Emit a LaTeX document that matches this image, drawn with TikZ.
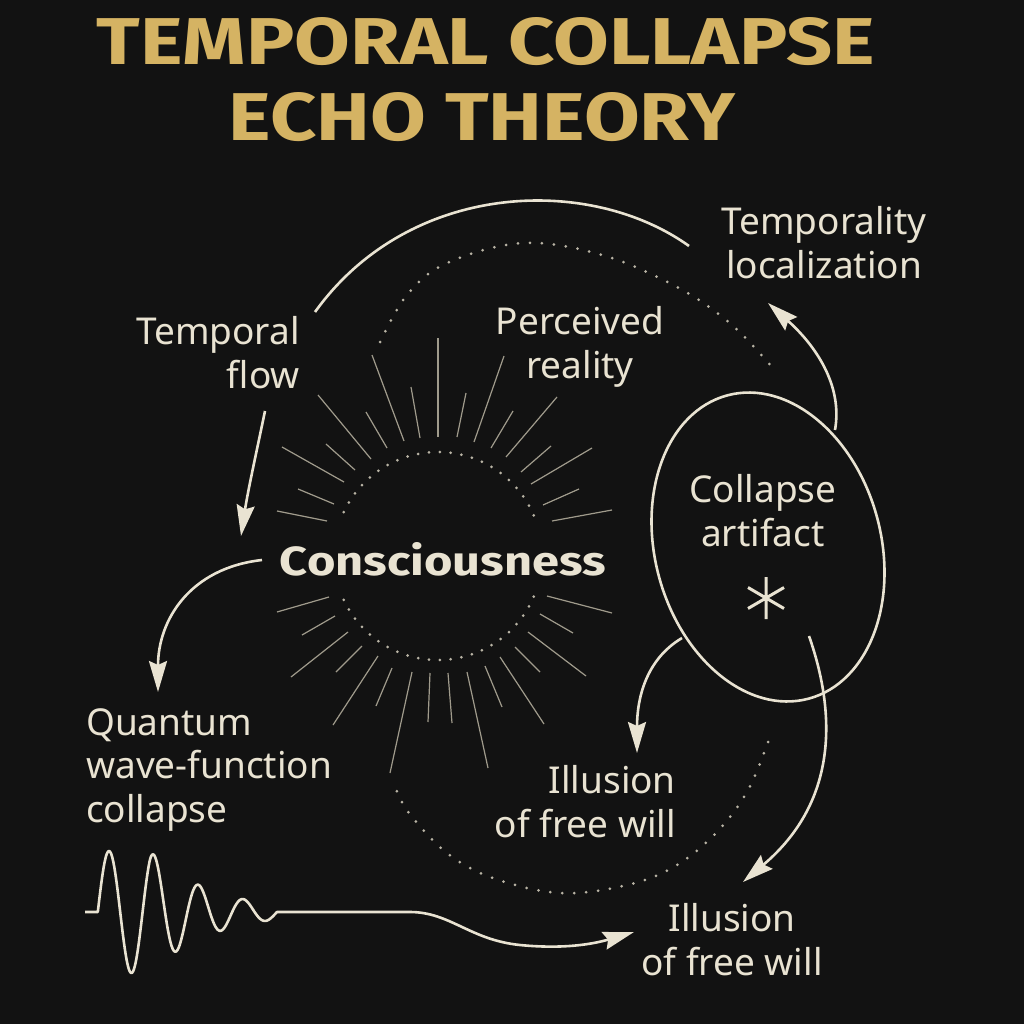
\documentclass[tikz,border=0pt]{standalone}
\usepackage{fontspec}
\setmainfont{Noto Sans}
\newfontfamily\titlefont{Fira Sans}
\usetikzlibrary{arrows.meta,shapes.geometric}
\definecolor{bg}{RGB}{18,18,18}
\definecolor{cream}{RGB}{233,227,210}
\definecolor{gold}{RGB}{213,179,99}
\definecolor{raycol}{RGB}{160,155,140}
\definecolor{dotcol}{RGB}{185,180,165}
\tikzset{
  lbl/.style={text=cream, font=\fontsize{37}{43.5}\selectfont, inner sep=0pt},
  conn/.style={draw=cream, line width=2.6pt, -{Stealth[length=31pt,width=18pt,inset=4pt]}},
  plainline/.style={draw=cream, line width=2.6pt},
  ray/.style={draw=raycol, line width=1.2pt},
  dotline/.style={draw=dotcol, line width=3pt, line cap=round, dash pattern=on 0pt off 12pt},
}
\begin{document}
\begin{tikzpicture}[x=1pt,y=-1pt]
\fill[bg] (0,0) rectangle (1024,1024);
\useasboundingbox (0,0) rectangle (1024,1024);

% title
\node[text=gold, anchor=base, inner sep=0pt] (title1) at (486,65)
  {\resizebox{778pt}{47pt}{\titlefont\bfseries TEMPORAL COLLAPSE}};
\node[text=gold, anchor=base, inner sep=0pt] (title2) at (482,141)
  {\resizebox{506pt}{48pt}{\titlefont\bfseries ECHO THEORY}};

% big dotted arcs
\draw[dotline] plot[smooth, tension=0.6] coordinates {(380,342) (407,295) (447,263) (523,243) (602,255) (677,287) (732,325) (777,373)};
\draw[dotline] plot[smooth, tension=0.6] coordinates {(768,742) (747,792) (714,835) (672,868) (623,886) (559,893) (493,878) (447,853) (409,813) (396,789)};

% rays
\foreach \xa/\ya/\xb/\yb in {438/338/438/437, 411/387/420/438, 372/355/404/441, 366/412/387/448,
  318/395/371/459, 326/444/355/470, 282/447/344/482, 298/489/334/504, 277/511/327/521,
  466/393/457/437, 504/356/474/442, 513/411/491/448, 557/397/506/457, 551/446/521/472,
  592/448/531/484, 579/489/543/505, 612/510/552/521,
  277/612/329/597, 302/635/335/616, 291/677/348/632, 336/672/362/646, 333/725/378/656,
  376/706/392/668, 390/773/412/672, 428/722/430/673, 452/723/448/673, 488/768/467/672,
  502/707/485/666, 544/724/500/657, 540/672/515/647, 586/676/528/632, 573/633/540/614,
  612/613/547/596}
  \draw[ray] (\xa,\ya) -- (\xb,\yb);

% inner dotted circle
\foreach \a in {23,29,...,155}
  \fill[dotcol] ({438+104*cos(\a)},{556-104*sin(\a)}) circle (1.5pt);
\foreach \a in {205,211,...,337}
  \fill[dotcol] ({438+104*cos(\a)},{556-104*sin(\a)}) circle (1.5pt);

% collapse artifact ellipse
\node[ellipse, draw=cream, line width=2.6pt, fill=bg, minimum width=226pt, minimum height=314pt,
  rotate=15, inner sep=0pt] (artifact) at (768,547) {};
\node[lbl, align=center, anchor=base] (artlbl) at (763,546) {Collapse\\artifact};
\draw[cream, line width=3pt] (766,577) -- (766,619) (748,587.5) -- (784,608.5) (748,608.5) -- (784,587.5);

% labels (base anchor = baseline of last line)
\node[lbl, align=right, anchor=base east] (tflow) at (300,388) {Temporal\\flow};
\node[lbl, align=center, anchor=base] (perc) at (580,378) {Perceived\\reality};
\node[lbl, align=center, anchor=base] (tloc) at (824,278) {Temporality\\localization};
\node[text=cream, inner sep=0pt, anchor=base] (consc) at (443,575)
  {\resizebox{326pt}{33pt}{\titlefont\fontsize{44}{50}\selectfont\bfseries Consciousness}};
\node[lbl, align=left, anchor=base west] (quant) at (86,822) {Quantum\\wave-function\\collapse};
\node[lbl, align=right, anchor=base east] (ill1) at (676,837) {Illusion\\of free will};
\node[lbl, align=center, anchor=base] (ill2) at (732,975) {Illusion\\of free will};

% connector end points
\coordinate (tfA) at (315,312);
\coordinate (tlA) at (689,246);
\coordinate (artTop) at (835,430);
\coordinate (tlB) at (768,303);
\coordinate (tfB) at (265,411);
\coordinate (cA) at (241,536);
\coordinate (cB) at (262,560);
\coordinate (qA) at (158,692);
\coordinate (artL) at (682,638);
\coordinate (ilA) at (637,753);
\coordinate (artS) at (809,636);
\coordinate (ibA) at (743,882);
\coordinate (wave0) at (85,912);
\coordinate (wEnd) at (634,932);

% connectors
\draw[plainline] (tfA) .. controls (410,180) and (590,175) .. (tlA);
\draw[conn] (artTop) .. controls (843,385) and (815,345) .. (tlB);
\draw[conn] (tfB) .. controls (258,445) and (248,490) .. (cA);
\draw[conn] (cB) .. controls (190,568) and (158,620) .. (qA);
\draw[conn] (artL) .. controls (645,660) and (637,700) .. (ilA);
\draw[conn] (artS) .. controls (835,710) and (840,800) .. (ibA);
\draw[conn, line join=round] (wave0) -- (97.8,912)
  -- plot[domain=97.8:277, samples=220] (\x,{912-61*exp(-max(0,\x-150)/60)*sin(8.0357*(\x-97.8))})
  -- (410,912) .. controls (450,912) and (470,940) .. (520,945)
  .. controls (570,950) and (600,942) .. (wEnd);
\end{tikzpicture}
\end{document}
